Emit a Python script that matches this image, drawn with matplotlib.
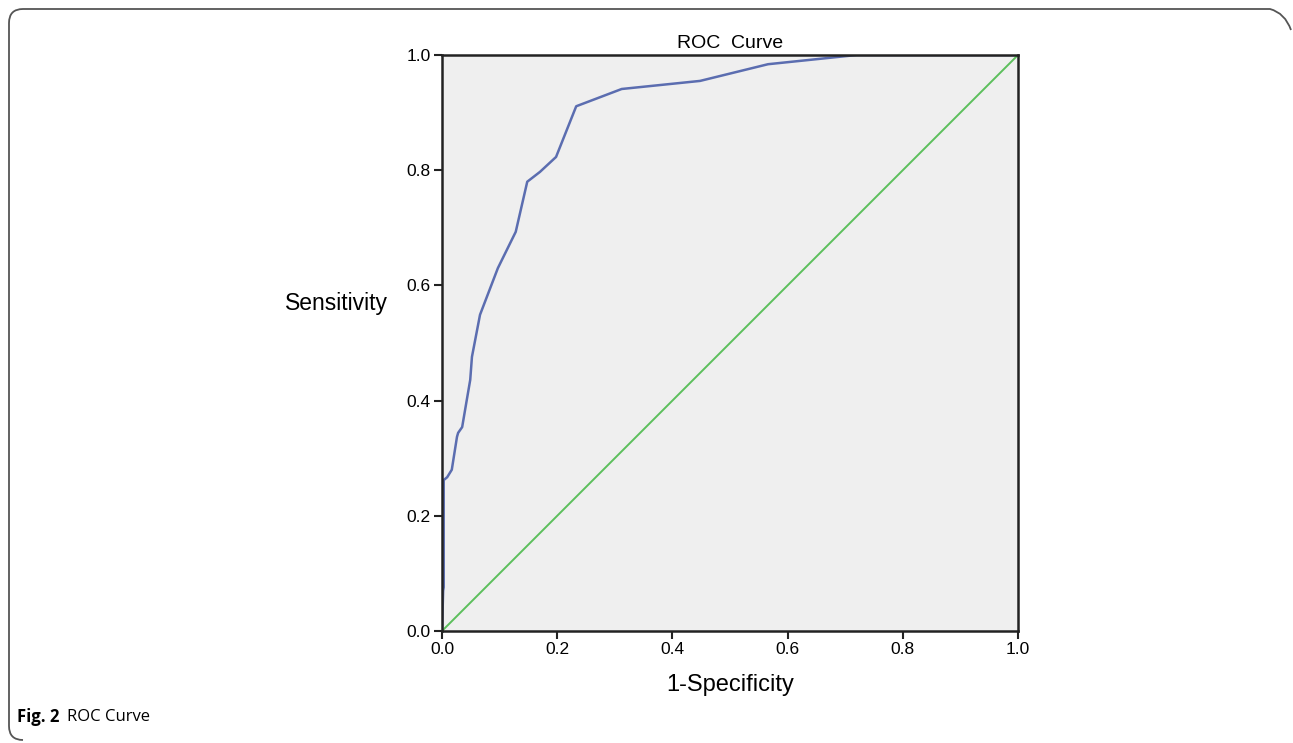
import matplotlib.pyplot as plt
from matplotlib.path import Path
from matplotlib.patches import PathPatch

# ROC points
fpr = [0.0, 0.002, 0.003, 0.003, 0.009, 0.017, 0.026, 0.028, 0.035, 0.043,
       0.049, 0.052, 0.066, 0.097, 0.128, 0.148, 0.17, 0.198, 0.233,
       0.312, 0.448, 0.566, 0.72, 1.0]
tpr = [0.0, 0.07, 0.076, 0.262, 0.267, 0.28, 0.337, 0.344, 0.354, 0.401,
       0.436, 0.476, 0.549, 0.63, 0.693, 0.78, 0.797, 0.823, 0.911,
       0.941, 0.955, 0.984, 1.0, 1.0]
diag = [0.0, 1.0]
ticks = [0.0, 0.2, 0.4, 0.6, 0.8, 1.0]

plt.rcParams['font.family'] = ['Liberation Sans', 'DejaVu Sans']

W, H = 1293, 743
fig = plt.figure(figsize=(W / 100, H / 100), dpi=100)
fig.patch.set_facecolor('white')

# open frame: top, left and bottom with rounded corners (pixel coords)
r = 14
pts = [(1291, 30), (1285, 13), (1270, 9),
       (9 + r, 9), (9, 9), (9, 9 + r),
       (9, 740 - r), (9, 740), (9 + r, 740)]
codes = [Path.MOVETO, Path.CURVE3, Path.CURVE3,
         Path.LINETO, Path.CURVE3, Path.CURVE3,
         Path.LINETO, Path.CURVE3, Path.CURVE3]
pts = [(x / W, 1 - y / H) for x, y in pts]
frame = PathPatch(Path(pts, codes), transform=fig.transFigure, fill=False,
                  edgecolor='#555555', linewidth=1.3)
fig.patches.append(frame)

ax = fig.add_axes([442 / W, 112 / H, 576 / W, 576 / H])
ax.set_facecolor('#efefef')
ax.plot(fpr, tpr, color='#5b6db0', lw=1.8)
ax.plot(diag, diag, color='#5cbf5c', lw=1.4)
ax.set_xlim(0, 1)
ax.set_ylim(0, 1)
ax.set_xticks(ticks)
ax.set_yticks(ticks)
ax.set_xticklabels([f'{t:.1f}' for t in ticks], fontsize=12.5)
ax.set_yticklabels([f'{t:.1f}' for t in ticks], fontsize=12.5)
ax.tick_params(direction='out', length=6, width=1.5, color='#222222', pad=2)
for s in ax.spines.values():
    s.set_linewidth(1.8)
    s.set_color('#222222')

ax.set_title('ROC  Curve', fontsize=14, pad=5)
ax.set_xlabel('1-Specificity', fontsize=17, labelpad=12)
ax.set_ylabel('Sensitivity', fontsize=16.5, rotation=0, ha='center', va='center')
ax.yaxis.set_label_coords(-0.184, 0.569)

fig.text(17 / W, 1 - 717 / H, 'Fig. 2', fontsize=12, fontweight='bold',
         family=['Open Sans', 'DejaVu Sans'], va='center')
fig.text(67 / W, 1 - 717 / H, 'ROC Curve', fontsize=12,
         family=['Open Sans', 'DejaVu Sans'], va='center')

fig.savefig('out.png', dpi=100)
